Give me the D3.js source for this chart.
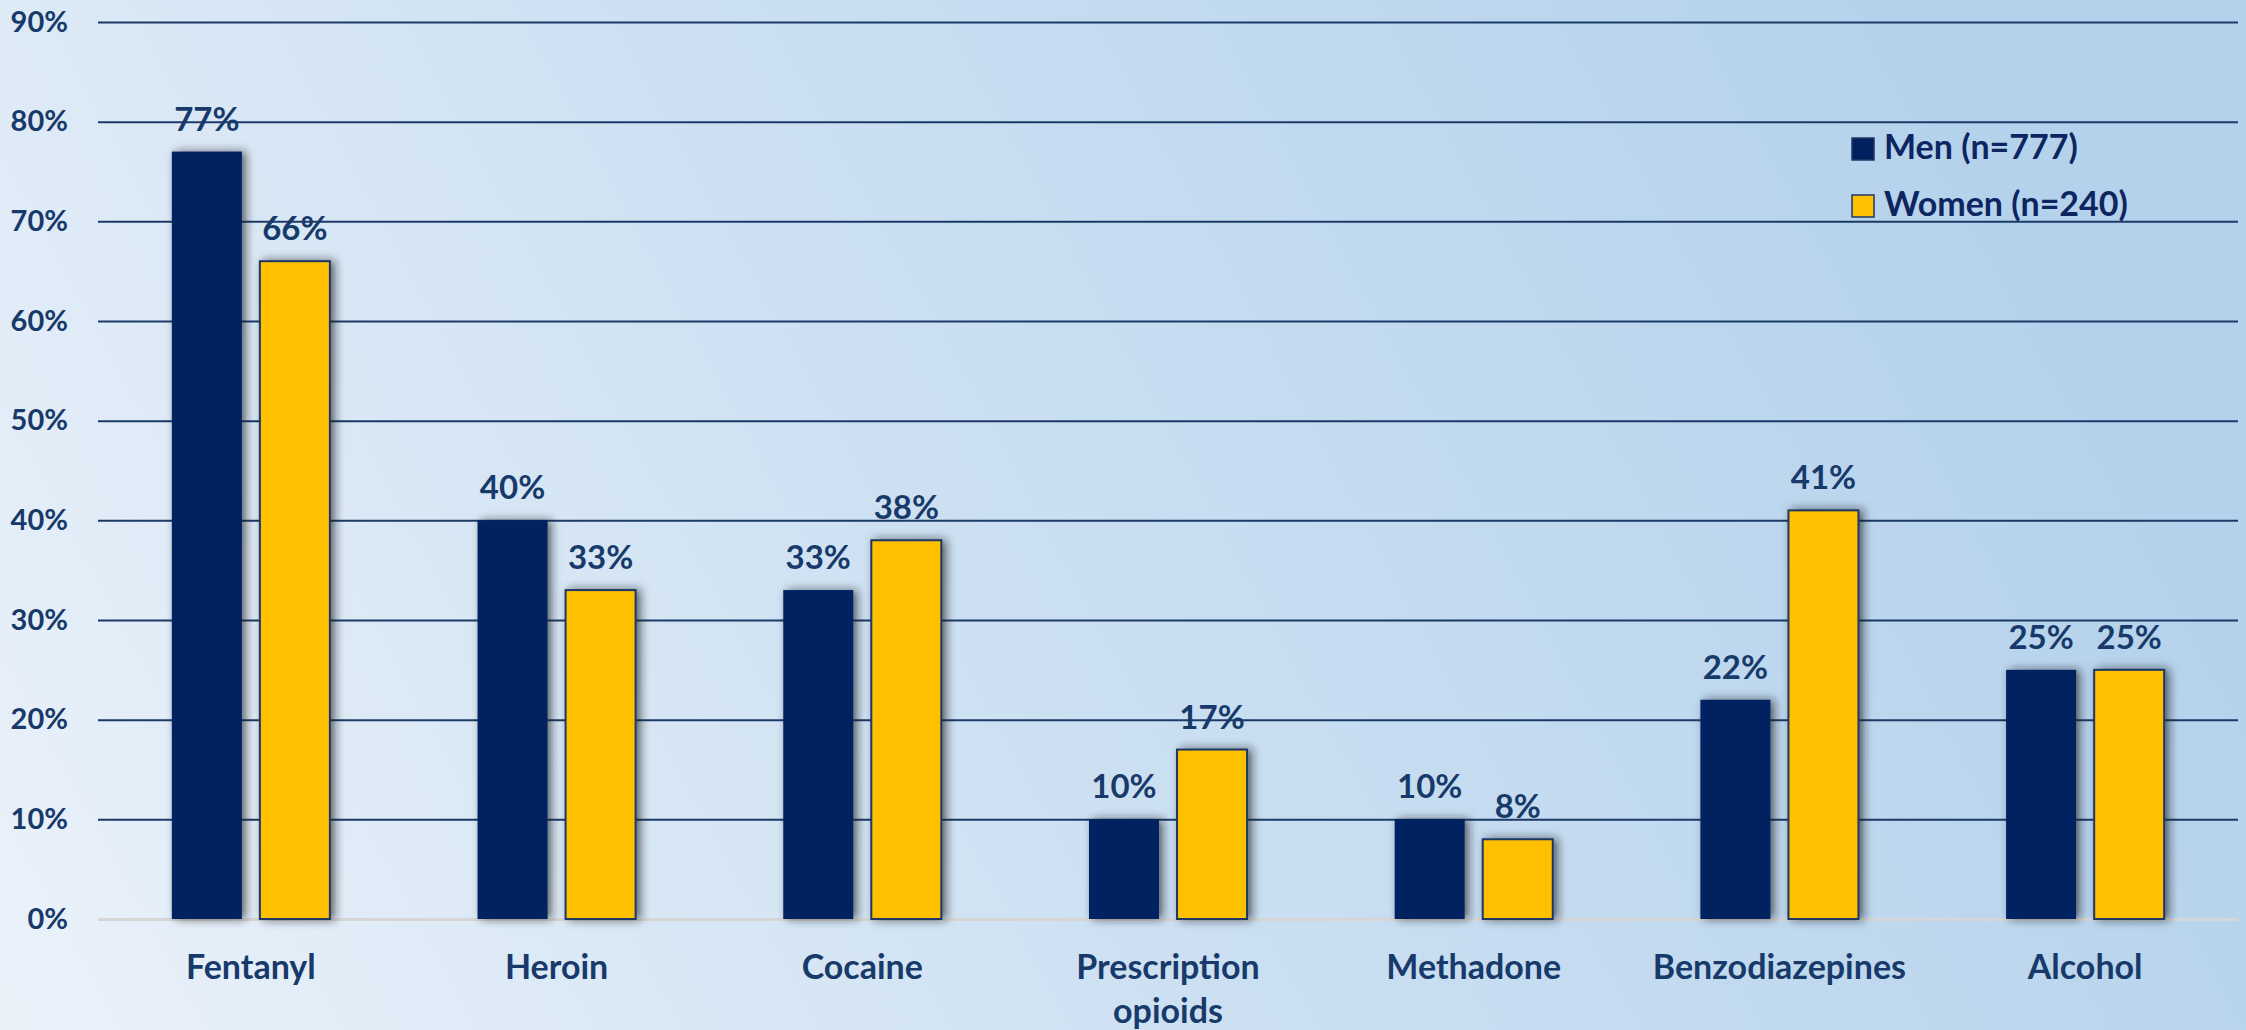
<!DOCTYPE html>
<html>
<head>
<meta charset="utf-8">
<script src="https://cdn.jsdelivr.net/npm/d3@7"></script>
<style>
  html, body { margin: 0; padding: 0; overflow: hidden; }
  svg { display: block; font-family: Lato, "Open Sans", sans-serif; font-weight: 700; }
</style>
</head>
<body>
<svg id="chart" width="2246" height="1030"></svg>
<script>
// Substances detected, share of deaths by sex
const categories = ["Fentanyl", "Heroin", "Cocaine", "Prescription opioids", "Methadone", "Benzodiazepines", "Alcohol"];
const seriesNames = ["Men (n=777)", "Women (n=240)"];
const menValues = [77, 40, 33, 10, 10, 22, 25];
const womenValues = [66, 33, 38, 17, 8, 41, 25];
const yTicks = [0, 10, 20, 30, 40, 50, 60, 70, 80, 90];

const W = 2246, H = 1030;
const margin = { left: 98, right: 8, top: 22, bottom: 111 };
const svg = d3.select("#chart");

// Background wash
const defs = svg.append("defs");
const bg = defs.append("linearGradient").attr("id", "bg")
  .attr("gradientUnits", "userSpaceOnUse")
  .attr("x1", 0).attr("y1", H).attr("x2", 1900).attr("y2", 0);
bg.append("stop").attr("offset", "0%").attr("stop-color", "#ebf2fa");
bg.append("stop").attr("offset", "50%").attr("stop-color", "#cce0f2");
bg.append("stop").attr("offset", "100%").attr("stop-color", "#b5d2ec");
svg.append("rect").attr("width", W).attr("height", H).attr("fill", "url(#bg)");

const shadow = defs.append("filter").attr("id", "shadow")
  .attr("x", "-30%").attr("y", "-30%").attr("width", "160%").attr("height", "160%");
shadow.append("feDropShadow").attr("dx", 4).attr("dy", 0).attr("stdDeviation", 5)
  .attr("flood-color", "#1a1a1a").attr("flood-opacity", 0.65);

const x0 = d3.scaleBand().domain(categories).range([margin.left, W - margin.right]).padding(0);
const groupW = x0.bandwidth() * 0.517;
const x1 = d3.scaleBand().domain(seriesNames).range([0, groupW]).paddingInner(0.205).paddingOuter(0);
const y = d3.scaleLinear().domain([0, 90]).range([H - margin.bottom, margin.top]);

const colors = { "Men (n=777)": "#002060", "Women (n=240)": "#ffc000" };
const textColor = "#173a6b";

// Gridlines
const yAxis = d3.axisLeft(y).tickValues(yTicks).tickFormat(d => d + "%")
  .tickSize(-(W - margin.left - margin.right)).tickPadding(30);
const gy = svg.append("g").attr("transform", `translate(${margin.left},0)`).call(yAxis);
gy.select(".domain").remove();
gy.selectAll(".tick line")
  .attr("stroke", d => d === 0 ? "#d6d6d6" : "#1c3a68")
  .attr("stroke-width", d => d === 0 ? 3 : 2);
gy.selectAll(".tick text")
  .attr("fill", textColor).attr("font-size", 29).attr("font-weight", 700)
  .attr("font-family", "Lato, sans-serif");

// Bars
const rows = categories.map((c, i) => ({ cat: c, vals: [
  { key: seriesNames[0], v: menValues[i] },
  { key: seriesNames[1], v: womenValues[i] }
]}));

const groups = svg.append("g").selectAll("g").data(rows).join("g")
  .attr("transform", d => `translate(${x0(d.cat) + (x0.bandwidth() - groupW) / 2},0)`);

groups.selectAll("rect").data(d => d.vals).join("rect")
  .attr("x", d => x1(d.key))
  .attr("y", d => y(d.v))
  .attr("width", x1.bandwidth())
  .attr("height", d => y(0) - y(d.v))
  .attr("fill", d => colors[d.key])
  .attr("stroke", d => d.key === seriesNames[1] ? "#1f3864" : "none")
  .attr("stroke-width", 2)
  .attr("filter", "url(#shadow)");

groups.selectAll("text").data(d => d.vals).join("text")
  .attr("x", d => x1(d.key) + x1.bandwidth() / 2)
  .attr("y", d => y(d.v) - 21)
  .attr("text-anchor", "middle")
  .attr("fill", textColor).attr("font-size", 33)
  .text(d => d.v + "%");

// Category labels (wrapped onto two lines where needed)
const catLabels = svg.append("g").selectAll("text").data(categories).join("text")
  .attr("x", d => x0(d) + x0.bandwidth() / 2)
  .attr("y", 979)
  .attr("text-anchor", "middle")
  .attr("fill", textColor).attr("font-size", 34);
catLabels.each(function(d) {
  const words = d === "Prescription opioids" ? ["Prescription", "opioids"] : [d];
  const t = d3.select(this);
  words.forEach((w, i) => {
    t.append("tspan").attr("x", x0(d) + x0.bandwidth() / 2).attr("dy", i === 0 ? 0 : 44).text(w);
  });
});

// Legend
const legend = svg.append("g").attr("transform", "translate(1852,138)");
seriesNames.forEach((s, i) => {
  const g = legend.append("g").attr("transform", `translate(0,${i * 57})`);
  g.append("rect").attr("width", 22).attr("height", 22)
    .attr("fill", colors[s]).attr("stroke", "#1f3864").attr("stroke-width", 1.5);
  g.append("text").attr("x", 32).attr("y", 21)
    .attr("fill", "#0d2561").attr("font-size", 34).text(s);
});
</script>
</body>
</html>
